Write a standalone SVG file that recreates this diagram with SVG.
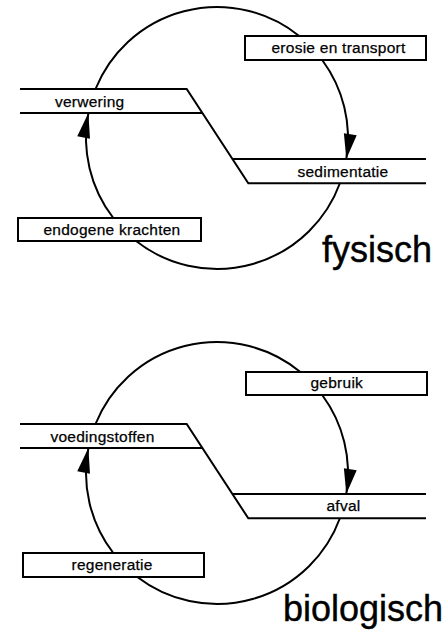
<svg xmlns="http://www.w3.org/2000/svg" width="448" height="637" viewBox="0 0 448 637">
<style>
  .ln { fill: none; stroke: #000; stroke-width: 2; stroke-linejoin: miter; }
  .box { fill: #fff; stroke: #000; stroke-width: 2; }
  .arc { fill: none; stroke: #000; stroke-width: 2; }
  .lbl { font-family: "Liberation Sans", Arial, Helvetica, sans-serif; font-size: 15.5px; letter-spacing: 0.25px; fill: #000; stroke: #000; stroke-width: 0.25px; }
  .ttl { font-family: "Liberation Sans", Arial, Helvetica, sans-serif; font-size: 36px; fill: #000; stroke: #000; stroke-width: 0.4px; }
</style>
<defs>
  <marker id="ah" markerUnits="userSpaceOnUse" markerWidth="26" markerHeight="14" refX="25" refY="7" orient="auto" overflow="visible">
    <path d="M0,0.5 L25,7 L0,13.5 z" fill="#000"/>
  </marker>
</defs>

<!-- connectors -->
<g id="connectors">
  <!-- physical cycle -->
  <path class="arc" d="M95.5,89 A131,131 0 0 1 299.2,36"/>
  <path class="arc" d="M322.2,60 A131,131 0 0 1 346.3,159" marker-end="url(#ah)"/>
  <path class="arc" d="M340,183 A131,131 0 0 1 136.1,241"/>
  <path class="arc" d="M113.3,218 A131,131 0 0 1 88.4,113" marker-end="url(#ah)"/>
  <!-- biological cycle -->
  <path class="arc" d="M95.5,424 A131,131 0 0 1 300.4,372"/>
  <path class="arc" d="M322.2,395 A131,131 0 0 1 346.3,494" marker-end="url(#ah)"/>
  <path class="arc" d="M340,518 A131,131 0 0 1 137.3,577"/>
  <path class="arc" d="M113.3,553 A131,131 0 0 1 88.4,448" marker-end="url(#ah)"/>
</g>

<!-- physical cycle nodes -->
<g id="verwering">
  <path class="ln" d="M20,89 H186.7 L248.3,183.3 H426"/>
  <path class="ln" d="M20,113 H202.3"/>
  <text class="lbl" x="55" y="107">verwering</text>
</g>
<g id="sedimentatie">
  <path class="ln" d="M232.7,159 H426"/>
  <text class="lbl" x="297.5" y="177">sedimentatie</text>
</g>
<g id="erosie-en-transport">
  <rect class="box" x="245" y="36" width="181" height="24"/>
  <text class="lbl" x="271.5" y="53">erosie en transport</text>
</g>
<g id="endogene-krachten">
  <rect class="box" x="18" y="218" width="183" height="23"/>
  <text class="lbl" x="43.5" y="234.5">endogene krachten</text>
</g>
<g id="fysisch">
  <text class="ttl" x="322" y="262">fysisch</text>
</g>

<!-- biological cycle nodes -->
<g id="voedingstoffen">
  <path class="ln" d="M20,424 H186.7 L248.3,518.3 H426"/>
  <path class="ln" d="M20,448 H202.3"/>
  <text class="lbl" x="50.5" y="442">voedingstoffen</text>
</g>
<g id="afval">
  <path class="ln" d="M232.7,494 H426"/>
  <text class="lbl" x="326.5" y="510.5">afval</text>
</g>
<g id="gebruik">
  <rect class="box" x="246" y="372" width="181" height="23"/>
  <text class="lbl" x="310.5" y="387.5">gebruik</text>
</g>
<g id="regeneratie">
  <rect class="box" x="23" y="553" width="181" height="24"/>
  <text class="lbl" x="71.5" y="570">regeneratie</text>
</g>
<g id="biologisch">
  <text class="ttl" x="283" y="621">biologisch</text>
</g>
</svg>
